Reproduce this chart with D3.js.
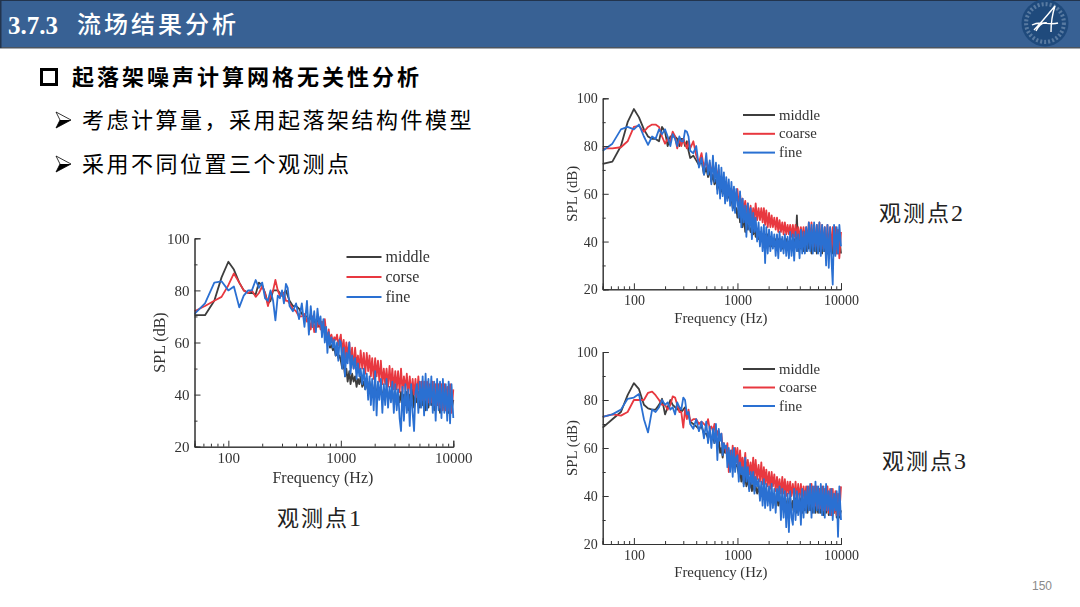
<!DOCTYPE html>
<html>
<head>
<meta charset="utf-8">
<script src="https://cdn.jsdelivr.net/npm/d3@7"></script>
<style>
  html, body { margin: 0; padding: 0; background: #fff; }
  text { font-family: "Liberation Serif", serif; }
  .cjk { font-family: "Noto Sans CJK SC", sans-serif; }
</style>
</head>
<body>
<div id="slide"></div>
<script>
const freqs = [
  50,62,75,87,100,112,125,137,150,162,175,187,200,212,225,237,250,262,275,287,300,312,325,337,350,375,400,425,450,475,
  500,520,540,560,580,600,620,640,660,680,700,720,740,760,780,800,825,850,875,900,925,950,975,
  1000,1030,1060,1090,1120,1150,1190,1220,1260,1300,1340,1380,1420,1460,1500,1550,1600,1650,1700,1750,
  1800,1850,1900,1960,2020,2080,2140,2200,2270,2340,2410,2480,2550,2630,2710,2790,2870,2960,3050,3140,
  3230,3330,3430,3530,3640,3750,3860,3980,4100,4220,4350,4480,4610,4750,4890,5040,5190,5340,5500,5670,
  5840,6010,6190,6380,6570,6770,6970,7180,7400,7620,7850,8080,8320,8570,8830,9090,9360,9640,10000
];

// observation point 1
const p1Middle = [
  70.5,70.5,76,85,91,88,83,80,79,79,78.5,83,82,79,75,76,80,80,80,79,78,79,80,78,76,74,74,73,71,70,
  70,68,71,66,69,67,70,66,68,65,68,64,63,60,61,58,59,57,58,55,56,54,55,
  53,50,52,47,50,45,49,44,48,45,47,43,46,44,47,43,45,42,46,41,
  45,41,44,40,44,39,43,40,43,38,42,39,42,38,41,38,41,37,41,36,
  40,37,41,35,40,36,41,34,40,36,42,35,40,37,41,35,40,36,42,34,
  41,35,40,36,41,34,42,36,40,33,41,35,40,34,42,33,41,34,38
];
const p1Corse = [
  72,74,76,77.5,82,86.5,83,80,79,80,77.5,79,81.5,79,74,78,80,84,80,78,78,79,76,76,75,73,72,70,70,71,
  68,69,65,70,64,68,66,69,65,68,66,69,64,62,65,61,63,60,62,61,63,59,61,
  63,56,61,54,60,55,60,52,58,50,58,51,55,49,57,50,56,48,56,49,
  55,47,54,46,54,47,53,45,53,44,50,44,50,43,51,43,50,42,49,42,
  49,41,50,41,47,42,48,40,47,40,46,40,46,39,47,39,45,38,45,38,
  45,37,44,37,45,36,44,36,44,35,44,34,44,34,43,34,44,33,42
];
const p1Fine = [
  71,75,83,83.5,80,81.5,73.5,78,80,80,84,81,83,77,76,80,76,68.5,78,77,80,75,82.5,81,74,72,75,69,75,66,
  76,63,74,66,72,64,73,67,70,62,69,60,66,56,64,59,62,58,61,55,60,53,61,
  60,50,58,47,56,52,60,48,55,50,54,46,52,47,50,44,50,42,48,38,
  47,36,46,34,49,32,45,38,46,33,44,36,46,35,43,37,45,33,44,34,
  42,31,26,43,30,44,33,42,28,44,33,26,41,44,33,45,35,47,32,48,
  34,46,36,47,33,45,30,46,34,45,31,46,33,44,30,45,29,44,31
];

// observation point 2
const p2Middle = [
  72.5,73.5,80,90,95.5,92,87,84,83,83,82,88,86,80,84,84,84,83,80,83,83,80,82,78,75,76,74,72,74,68,
  71,67,70,65,68,64,66,62,66,60,64,60,63,59,62,58,60,57,58,54,55,53,54,
  50,54,48,52,46,51,44,49,45,47,44,46,43,46,42,45,41,44,41,43,
  40,43,39,43,38,42,38,41,38,41,37,41,38,41,37,40,38,41,37,40,
  38,40,37,41,38,51,36,42,37,41,36,42,36,43,37,41,35,42,36,43,
  35,41,36,42,35,43,36,41,35,42,36,40,35,42,36,41,35,42,35
];
const p2Coarse = [
  79,79,79.5,82,88,88.5,86,88,89,89,88,84,81,83,82,86,84,79,83,80,83,81,79,82,79,82,76,73,77,71,
  74,69,73,70,71,68,72,66,70,62,67,64,66,61,65,60,63,61,62,59,62,58,60,
  62,55,60,54,58,53,57,51,56,50,55,49,54,49,56,49,54,49,54,48,
  54,47,53,46,52,46,51,46,50,45,50,44,49,44,48,43,48,43,47,43,
  47,42,47,42,47,42,46,41,46,41,46,41,46,40,48,40,48,39,47,38,
  47,37,48,37,47,37,46,36,47,36,46,36,46,35,46,35,45,33,44
];
const p2Fine = [
  78,81,87,88,87,89,84,80.5,84,83,87,85,87,84,80,85,83,80,84,82,82,86.5,86,84,78,77,80,71,75,68,
  77,68,74,64,76,65,73,60,72,58,71,59,69,56,67,57,66,55,65,53,63,52,62,
  58,50,61,46,58,48,55,42,56,45,54,41,52,44,50,40,48,38,46,36,
  47,31,46,35,45,36,44,37,43,34,43,33,44,36,42,35,43,34,42,33,
  44,34,43,32,44,36,43,33,45,35,44,35,46,36,48,36,47,35,48,36,
  47,35,48,34,47,36,46,30,47,29,46,33,22,47,34,46,35,47,38
];

// observation point 3
const p3Middle = [
  68.5,72,75,82,87,84.5,78,76.5,76,76,78,80.5,74,77,80,78,77,76,77,75,76,77,74,74,71,70,69,68,69,66,
  66,64,67,63,65,62,66,60,64,58,60,56,60,58,59,57,58,55,56,53,55,52,53,
  52,49,51,46,50,45,48,44,47,43,46,42,45,42,44,41,44,40,43,40,
  42,39,42,38,42,37,41,37,41,36,40,36,40,35,39,35,39,35,39,34,
  39,34,38,34,39,33,38,34,39,33,38,34,38,33,38,34,39,33,39,33,
  38,33,38,33,39,32,38,33,38,32,38,32,37,33,38,31,38,31,34
];
const p3Coarse = [
  73,74,73.5,75,80,80,80,83,83.5,82,80,78,78,76,78,81.5,81,78,75,75,68.5,76,72,76,71,72,72,70,71,70,
  69,72,68,69,67,70,64,67,65,64,66,60,62,60,58,62,50,59,54,61,52,60,54,
  60,52,59,51,56,50,58,49,55,49,54,48,56,47,55,47,53,46,54,45,
  52,45,51,44,50,43,50,44,49,42,48,42,47,41,48,41,47,40,46,41,
  46,40,45,39,46,38,45,39,45,38,44,38,44,37,44,37,45,36,44,36,
  44,35,43,35,44,34,43,34,44,33,43,32,43,33,42,32,41,32,44
];
const p3Fine = [
  73,74,76,80.5,81,82.5,72,66.5,76,75,77,80,78,79,76,77,74,79,77,76,81,80,74,75,70,68,72,67,71,64,
  71,62,69,60,68,62,70,55,68,63,66,57,62,60,61,52,60,50,59,48,60,50,56,
  57,46,54,49,52,44,56,46,52,42,50,45,50,41,48,44,47,38,46,36,
  47,35,45,36,44,34,45,35,43,33,43,38,44,30,43,31,42,27,41,25,
  42,31,28,43,30,42,32,41,28,43,31,42,33,44,34,45,31,44,33,46,
  34,44,33,45,32,44,31,45,34,42,32,43,30,41,34,42,23,44,30
];

const xTicks = [100, 1000, 10000];
const xMinorTicks = [50,60,70,80,90,200,300,400,500,600,700,800,900,2000,3000,4000,5000,6000,7000,8000,9000];
const yTicks = [20, 40, 60, 80, 100];
const yMinorTicks = [30, 50, 70, 90];
const lineColors = ['#3d3d3d', '#e8383f', '#2b70d2'];

const namesA = ['middle', 'corse', 'fine'];
const namesB = ['middle', 'coarse', 'fine'];

const svg = d3.select('#slide').append('svg')
    .attr('width', 1080)
    .attr('height', 607)
    .style('display', 'block');

const defs = svg.append('defs');
defs.append('filter').attr('id', 'soft')
    .append('feGaussianBlur').attr('stdDeviation', 0.45);

// header band
svg.append('rect').attr('width', 1080).attr('height', 48).attr('fill', '#386194');
svg.append('rect').attr('width', 1080).attr('height', 1).attr('fill', '#22344d');
svg.append('rect').attr('y', 47).attr('width', 1080).attr('height', 1.5).attr('fill', '#4c5560');
svg.append('rect').attr('width', 1.5).attr('height', 48).attr('fill', '#22344d');

svg.append('text')
    .attr('x', 8).attr('y', 34)
    .attr('fill', '#fff')
    .attr('font-size', 25).attr('font-weight', 'bold')
    .text('3.7.3');
svg.append('text').attr('class', 'cjk')
    .attr('x', 77).attr('y', 33)
    .attr('fill', '#fff')
    .attr('font-size', 24).attr('font-weight', 500).attr('letter-spacing', 3)
    .text('流场结果分析');

// logo
const logo = svg.append('g').attr('transform', 'translate(1045,23)');
logo.append('circle').attr('r', 23.5).attr('fill', '#1f4a7c');
logo.append('circle').attr('r', 14).attr('fill', 'none').attr('stroke', '#7f9bbb').attr('stroke-width', 3).attr('stroke-dasharray', '1.5 1.5').attr('opacity', 0.6)
    .attr('stroke-dashoffset', 0).attr('transform', 'scale(1.35)');
logo.append('path')
    .attr('d', 'M-11,7 C-3,-1 5,-11 10,-17 C7,-8 6,0 6,9 M-13,2 C-4,-3 4,3 13,0 M-9,8 C-6,2 -2,-1 2,0')
    .attr('fill', 'none').attr('stroke', '#fff').attr('stroke-width', 1.4);

// bullets
svg.append('rect')
    .attr('x', 41.5).attr('y', 69.5).attr('width', 15).attr('height', 15)
    .attr('fill', 'none').attr('stroke', '#000').attr('stroke-width', 3);
svg.append('text').attr('class', 'cjk')
    .attr('x', 72).attr('y', 85)
    .attr('font-size', 22).attr('font-weight', 'bold').attr('letter-spacing', 3)
    .text('起落架噪声计算网格无关性分析');

const subLines = [
  { text: '考虑计算量\uFF0C采用起落架结构件模型', y: 120 },
  { text: '采用不同位置三个观测点', y: 164 }
];
subLines.forEach(d => {
  const arrow = svg.append('g').attr('transform', `translate(56,${d.y})`);
  arrow.append('path').attr('d', 'M0,-8 L15,0 L0,8 L4,0 Z').attr('fill', '#fff').attr('stroke', '#000').attr('stroke-width', 0.8);
  arrow.append('path').attr('d', 'M0,8 L15,0 L4,0 Z').attr('fill', '#000');
  svg.append('text').attr('class', 'cjk')
      .attr('x', 82).attr('y', d.y + 8)
      .attr('font-size', 22).attr('letter-spacing', 2.5)
      .text(d.text);
});

// captions
function caption(x, y, label, num) {
  const t = svg.append('text').attr('x', x).attr('y', y).attr('fill', '#222');
  t.append('tspan').attr('class', 'cjk').attr('font-size', 22).attr('letter-spacing', 2).text(label);
  t.append('tspan').attr('font-size', 24).text(num);
}
caption(277, 526, '观测点', '1');
caption(879, 221, '观测点', '2');
caption(882, 469, '观测点', '3');

svg.append('text')
    .attr('x', 1032).attr('y', 590)
    .attr('fill', '#8a8a8a').attr('font-size', 12)
    .style('font-family', '"Liberation Sans", sans-serif')
    .text('150');

function drawChart(c) {
  const g = svg.append('g').attr('filter', 'url(#soft)');

  const x = d3.scaleLog().domain([50, 10000]).range([c.left, c.right]);
  const y = d3.scaleLinear().domain([20, 100]).range([c.bottom, c.top]);

  const line = d3.line()
      .x((d, i) => x(freqs[i]))
      .y(d => y(d));

  c.series.forEach((values, i) => {
    g.append('path')
        .datum(values)
        .attr('fill', 'none')
        .attr('stroke', lineColors[i])
        .attr('stroke-width', 1.8)
        .attr('stroke-linejoin', 'round')
        .attr('d', line);
  });

  const xAxis = d3.axisBottom(x).tickValues(xTicks).tickFormat(d3.format('d')).tickSize(-6).tickPadding(6);
  const xMinor = d3.axisBottom(x).tickValues(xMinorTicks).tickFormat('').tickSize(-3);
  const yAxis = d3.axisLeft(y).tickValues(yTicks).tickSize(-6).tickPadding(5);
  const yMinor = d3.axisLeft(y).tickValues(yMinorTicks).tickFormat('').tickSize(-3);

  [
    [xMinor, `translate(0,${c.bottom})`],
    [xAxis, `translate(0,${c.bottom})`],
    [yMinor, `translate(${c.left},0)`],
    [yAxis, `translate(${c.left},0)`]
  ].forEach(([axis, tf]) => {
    const a = g.append('g').attr('transform', tf).call(axis);
    a.selectAll('path,line').attr('stroke', '#333');
    a.selectAll('text')
        .attr('fill', '#333')
        .attr('font-size', c.tickFont)
        .style('font-family', '"Liberation Serif", serif');
  });

  g.append('text')
      .attr('x', (c.left + c.right) / 2 - 1).attr('y', c.bottom + c.xTitleGap)
      .attr('text-anchor', 'middle')
      .attr('fill', '#333').attr('font-size', c.titleFont)
      .text('Frequency (Hz)');
  g.append('text')
      .attr('transform', `translate(${c.left - c.yTitleGap},${(c.top + c.bottom) / 2}) rotate(-90)`)
      .attr('text-anchor', 'middle')
      .attr('fill', '#333').attr('font-size', c.titleFont)
      .text('SPL (dB)');

  c.names.forEach((name, i) => {
    const ly = c.legendY + i * c.legendStep;
    g.append('line')
        .attr('x1', c.legendX).attr('x2', c.legendX + c.legendLen)
        .attr('y1', ly).attr('y2', ly)
        .attr('stroke', lineColors[i]).attr('stroke-width', 2);
    g.append('text')
        .attr('x', c.legendX + c.legendLen + 4).attr('y', ly + 4.5)
        .attr('fill', '#333').attr('font-size', c.titleFont)
        .text(name);
  });
}

drawChart({
  left: 194.5, right: 453.3, top: 238.3, bottom: 446.7,
  series: [p1Middle, p1Corse, p1Fine], names: namesA,
  tickFont: 15, titleFont: 16, xTitleGap: 36, yTitleGap: 30,
  legendX: 346.5, legendLen: 35, legendY: 257, legendStep: 20
});
drawChart({
  left: 602.7, right: 841, top: 98.3, bottom: 289.3,
  series: [p2Middle, p2Coarse, p2Fine], names: namesB,
  tickFont: 14, titleFont: 14.8, xTitleGap: 33.5, yTitleGap: 26,
  legendX: 743, legendLen: 32, legendY: 115, legendStep: 18.8
});
drawChart({
  left: 602.7, right: 841, top: 352, bottom: 544,
  series: [p3Middle, p3Coarse, p3Fine], names: namesB,
  tickFont: 14, titleFont: 14.8, xTitleGap: 33, yTitleGap: 26,
  legendX: 743, legendLen: 32, legendY: 369, legendStep: 18.5
});
</script>
</body>
</html>
